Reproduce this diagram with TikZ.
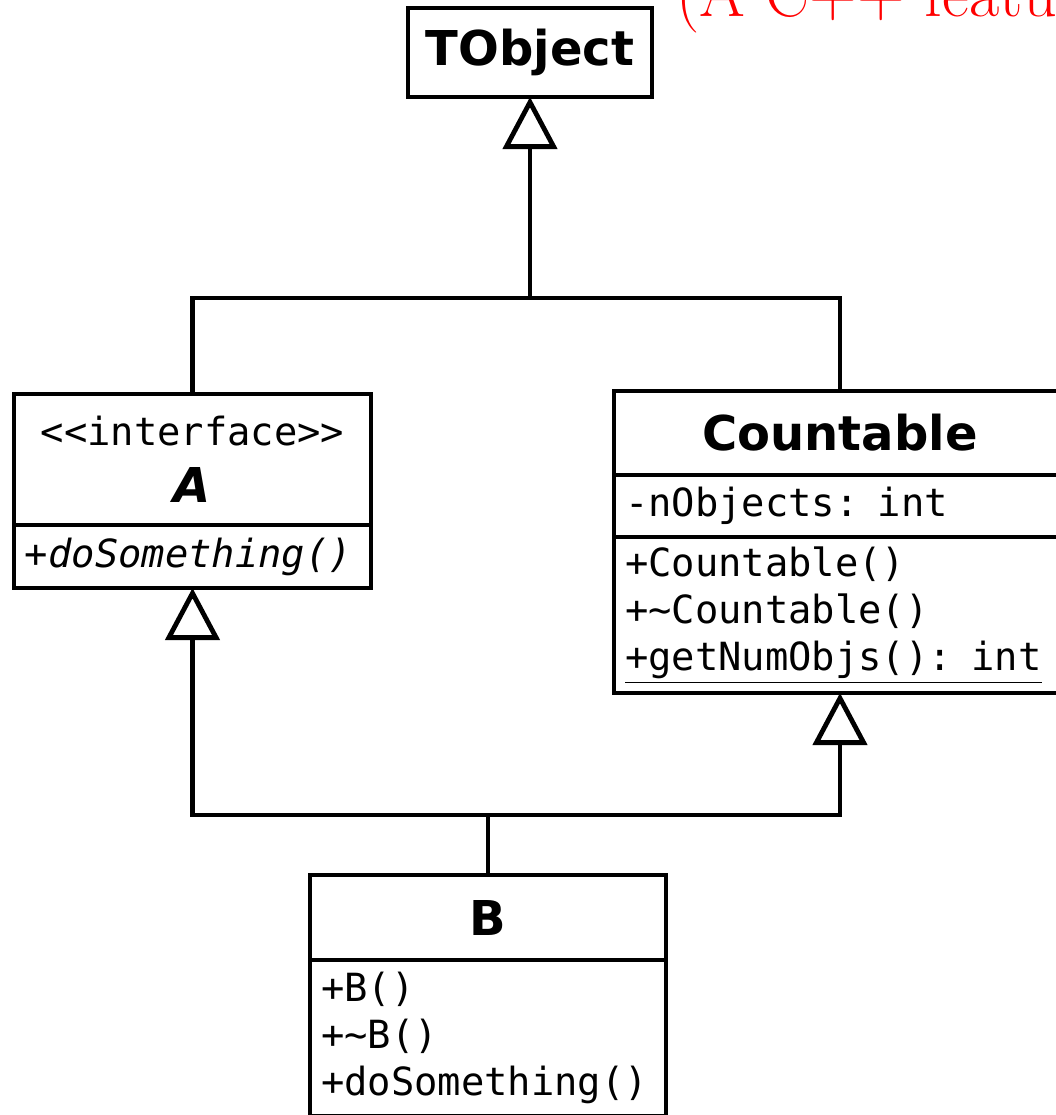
\documentclass[tikz,border=0pt]{standalone}
\usepackage{fontspec}
\setmonofont{DejaVu Sans Mono}
\newfontfamily\umlsans{DejaVu Sans}
\usetikzlibrary{positioning}
\usetikzlibrary{arrows.meta}

\newcommand{\umltitle}{\umlsans\bfseries\fontsize{24}{28}\selectfont}
\newcommand{\umlmember}{\ttfamily\fontsize{19.4}{23.6}\selectfont}

\begin{document}
\begin{tikzpicture}[x=0.5pt, y=-0.5pt, line width=2.4pt,
	box/.style={draw, outer sep=0pt, inner sep=0pt, align=center, font=\umlmember},
	members/.style={draw, outer sep=0pt, inner xsep=5.5pt, inner ysep=2pt, align=left, text width=#1, font=\umlmember},
	inherit/.style={-{Triangle[open, length=26pt, width=27pt]}}]
	\useasboundingbox (0,0) rectangle (1056,1115);
	\clip (0,0) rectangle (1056,1115);
	\node[anchor=base west, inner sep=0pt, text=red, font=\fontsize{33}{40}\selectfont] (note) at (674,16) {(A C++ featu};
	\node[box, minimum width=122pt, minimum height=44.5pt] (tobject) at (530,52.5) {\umltitle TObject};
	% interface A
	\node[box, anchor=north, minimum width=178.5pt, minimum height=65.5pt] (ahead) at (192.5,394) {<<interface>>\\[5pt]{\umltitle\itshape A}};
	\node[members=167.5pt, minimum height=31.5pt, below=0pt of ahead] (aops) {\itshape +doSomething()};
	% Countable
	\node[box, anchor=north, minimum width=226pt, minimum height=42pt] (chead) at (840,391) {\umltitle Countable};
	\node[members=215pt, minimum height=31pt, below=0pt of chead] (cattr) {-nObjects: int};
	\node[members=215pt, minimum height=78pt, below=0pt of cattr] (cops) {+Countable()\\+\textasciitilde Countable()\\\underline{+getNumObjs(): int}};
	% B
	\node[box, anchor=north, minimum width=178pt, minimum height=42.5pt] (bhead) at (488,875) {\umltitle B};
	\node[members=167pt, minimum height=78pt, below=0pt of bhead] (bops) {+B()\\+\textasciitilde B()\\+doSomething()};
	\coordinate (top) at (530,298);
	\coordinate (bottom) at (488,815);
	\draw (ahead.north) |- (top) -| (chead.north);
	\draw[inherit] (top) -- (tobject.south);
	\draw (bhead.north) -- (bottom);
	\draw[inherit] (bottom) -| (aops.south);
	\draw[inherit] (bottom) -| (cops.south);
\end{tikzpicture}
\end{document}
